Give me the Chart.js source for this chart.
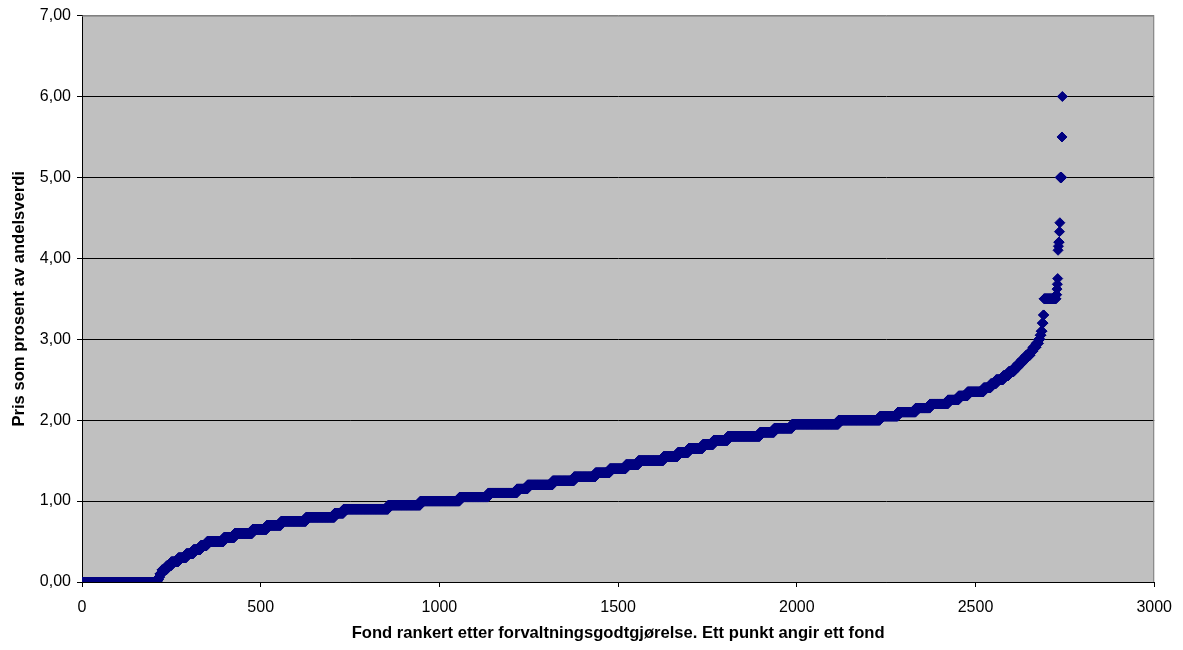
<!DOCTYPE html>
<html lang="no">
<head>
  <meta charset="UTF-8">
  <title>Fond rankert etter forvaltningsgodtgjørelse</title>
  <script src="https://cdn.jsdelivr.net/npm/chart.js"></script>
  <style>
    body { margin: 0; background: #fff; }
    .ramme { width: 1183px; height: 650px; position: relative; }
  </style>
</head>
<body>
  <div class="ramme">
    <canvas id="fond-grafico"></canvas>
  </div>
  <script>
    // Forvaltningsgodtgjørelse (%) og antall fond på hvert nivå, i stigende rekkefølge
    const avgift = [
      0.00, 0.03, 0.06, 0.10, 0.15, 0.20, 0.25, 0.30, 0.35, 0.40,
      0.45, 0.50, 0.55, 0.60, 0.65, 0.70, 0.75, 0.80, 0.85, 0.90,
      0.95, 1.00, 1.05, 1.10, 1.15, 1.20, 1.25, 1.30, 1.35, 1.40,
      1.45, 1.50, 1.55, 1.60, 1.65, 1.70, 1.75, 1.80, 1.85, 1.90,
      1.95, 2.00, 2.05, 2.10, 2.15, 2.20, 2.25, 2.30, 2.35, 2.40,
      2.45, 2.50, 2.55, 2.60, 2.65, 2.70, 2.75, 2.80, 2.85, 2.90,
      2.95, 3.00, 3.05, 3.10, 3.20, 3.30, 3.50, 3.55, 3.62, 3.68,
      3.75, 4.10, 4.15, 4.20, 4.33, 4.44, 5.00, 5.50, 6.00
    ];
    const antallFond = [
      211, 3, 3, 6, 13, 13, 20, 22, 20, 20,
      18, 47, 30, 50, 40, 40, 70, 80, 25, 125,
      90, 110, 80, 80, 30, 70, 60, 60, 40, 45,
      35, 70, 40, 30, 40, 30, 40, 90, 40, 50,
      130, 116, 50, 50, 40, 50, 30, 25, 45, 20,
      15, 20, 15, 15, 11, 11, 11, 12, 8, 9,
      7, 4, 3, 3, 3, 2, 34, 2, 1, 1,
      1, 1, 1, 2, 1, 1, 5, 1, 1
    ];
    const xTicks = [0, 500, 1000, 1500, 2000, 2500, 3000];
    const yTicks = [0, 1, 2, 3, 4, 5, 6, 7];

    // Ett punkt per fond: x = rangering, y = pris
    const punkter = [];
    let rang = 1;
    avgift.forEach((verdi, i) => {
      for (let k = 0; k < antallFond[i]; k++) {
        punkter.push({ x: rang, y: verdi });
        rang++;
      }
    });

    function formatKomma(v) {
      return v.toFixed(2).replace('.', ',');
    }

    // Grå bakgrunn i plottområdet + grå ramme oppe og til høyre
    const plottBakgrunn = {
      id: 'plottBakgrunn',
      beforeDraw(chart) {
        const { ctx, chartArea: a } = chart;
        ctx.save();
        ctx.fillStyle = '#C0C0C0';
        ctx.fillRect(a.left, a.top, a.right - a.left, a.bottom - a.top);
        ctx.restore();
      },
      afterDatasetsDraw(chart) {
        const { ctx, chartArea: a } = chart;
        ctx.save();
        ctx.strokeStyle = '#808080';
        ctx.lineWidth = 1;
        ctx.beginPath();
        ctx.moveTo(a.left, a.top + 0.5);
        ctx.lineTo(a.right - 0.5, a.top + 0.5);
        ctx.lineTo(a.right - 0.5, a.bottom);
        ctx.stroke();
        ctx.restore();
      }
    };

    const fontTekst = "'Liberation Sans', Arial, sans-serif";

    new Chart(document.getElementById('fond-grafico'), {
      type: 'scatter',
      data: {
        datasets: [{
          label: 'Fond',
          data: punkter,
          pointStyle: 'rectRot',
          pointRadius: 5,
          pointBorderWidth: 1,
          backgroundColor: '#000080',
          borderColor: '#000080'
        }]
      },
      plugins: [plottBakgrunn],
      options: {
        responsive: true,
        maintainAspectRatio: false,
        animation: false,
        layout: { padding: { left: 0, right: 27, top: 14, bottom: 0 } },
        plugins: {
          legend: { display: false },
          tooltip: { enabled: false }
        },
        scales: {
          x: {
            type: 'linear',
            min: xTicks[0],
            max: xTicks[xTicks.length - 1],
            afterFit: s => { s.height = 68; },
            afterBuildTicks: s => { s.ticks = xTicks.map(v => ({ value: v })); },
            ticks: {
              padding: 11,
              color: '#000',
              font: { family: fontTekst, size: 16 },
              maxRotation: 0,
              callback: v => String(v)
            },
            grid: {
              drawOnChartArea: false,
              drawTicks: true,
              tickLength: 5,
              tickColor: '#000'
            },
            border: { color: '#000', width: 1 },
            title: {
              display: true,
              text: 'Fond rankert etter forvaltningsgodtgjørelse. Ett punkt angir ett fond',
              color: '#000',
              padding: { top: 0, bottom: 7 },
              font: { family: fontTekst, size: 16.6, weight: 'bold' }
            }
          },
          y: {
            min: yTicks[0],
            max: yTicks[yTicks.length - 1],
            afterFit: s => { s.width = 82; },
            afterBuildTicks: s => { s.ticks = yTicks.map(v => ({ value: v })); },
            ticks: {
              padding: 6,
              color: '#000',
              font: { family: fontTekst, size: 16 },
              callback: v => formatKomma(v)
            },
            grid: {
              color: c => (c.tick && c.tick.value === 7 ? '#808080' : '#000'),
              tickColor: '#000',
              tickLength: 5,
              lineWidth: 1
            },
            border: { color: '#000', width: 1 },
            title: {
              display: true,
              text: 'Pris som prosent av andelsverdi',
              color: '#000',
              padding: { top: 9, bottom: 0 },
              font: { family: fontTekst, size: 16.6, weight: 'bold' }
            }
          }
        }
      }
    });
  </script>
</body>
</html>
